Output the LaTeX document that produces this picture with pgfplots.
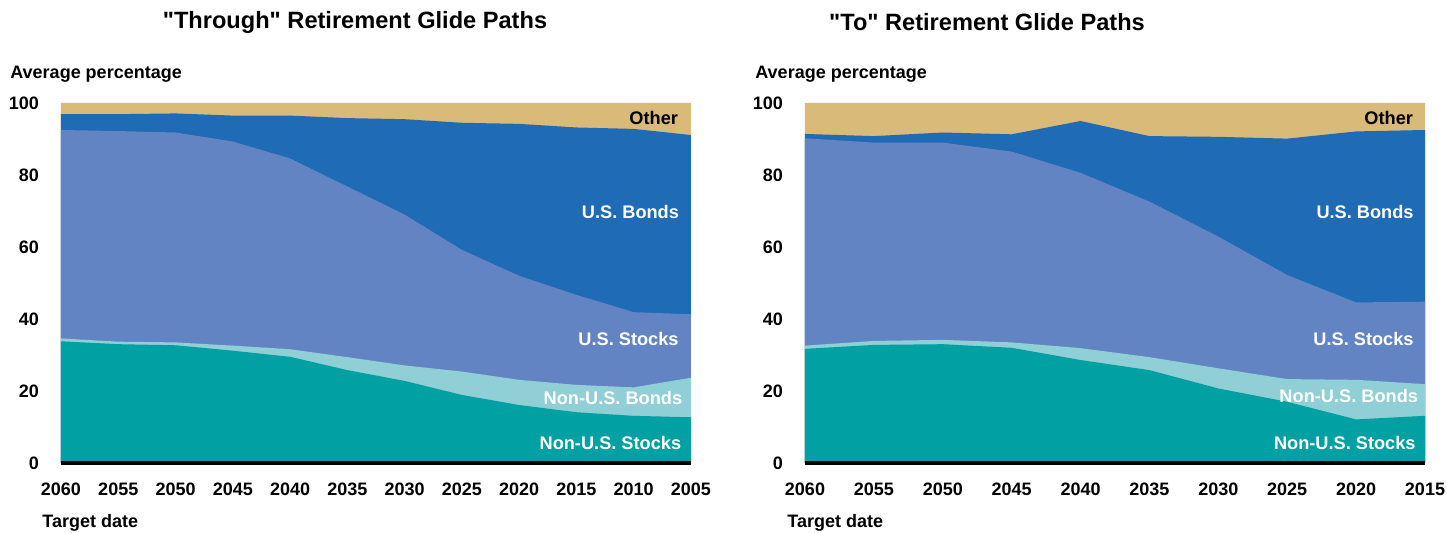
\documentclass[border=0pt]{standalone}
\usepackage{fontspec}
\setmainfont{Liberation Sans}
\usepackage{pgfplots}
\usepackage{pgfplotstable}
\pgfplotsset{compat=1.18}
\definecolor{cOther}{HTML}{D9BA78}
\definecolor{cUSB}{HTML}{1F6BB5}
\definecolor{cUSS}{HTML}{6384C3}
\definecolor{cNUB}{HTML}{90CFD5}
\definecolor{cNUS}{HTML}{00A0A3}

% cumulative tops of each layer
\pgfplotstableread{
year nus nub uss usb tot
2060 33.8 34.6 92.5 96.9 100
2055 33.0 33.7 92.2 96.9 100
2050 32.7 33.5 91.8 97.1 100
2045 31.2 32.6 89.3 96.5 100
2040 29.5 31.6 84.6 96.5 100
2035 25.8 29.4 76.8 95.8 100
2030 22.8 27.1 69.0 95.5 100
2025 18.9 25.4 59.2 94.5 100
2020 16.1 23.1 52.0 94.2 100
2015 14.1 21.7 46.7 93.2 100
2010 13.1 21.0 41.9 92.8 100
2005 12.7 23.7 41.3 91.1 100
}\throughdata

\pgfplotstableread{
year nus nub uss usb tot
2060 31.7 32.6 90.2 91.4 100
2055 32.8 33.9 89.0 90.8 100
2050 33.0 34.2 89.0 91.8 100
2045 32.0 33.5 86.5 91.3 100
2040 28.6 31.9 80.6 95.0 100
2035 25.8 29.4 72.6 90.8 100
2030 20.7 26.3 62.9 90.6 100
2025 17.0 23.3 52.2 90.1 100
2020 12.1 23.1 44.6 92.1 100
2015 13.1 21.9 44.8 92.5 100
}\todata

\pgfplotsset{
  glide/.style={
    scale only axis,
    height=180pt,
    x dir=reverse,
    ymin=0, ymax=100,
    ytick={0,20,...,100},
    axis line style={draw=none},
    major tick length=0pt,
    tick label style={font=\bfseries\fontsize{9}{10}\selectfont},
    /pgf/number format/assume math mode=true,
    /pgf/number format/1000 sep={},
    xticklabel style={yshift=-6.3pt},
    yticklabel style={xshift=-7.5pt},
    clip=false,
  },
}
\tikzset{lab/.style={anchor=east, inner sep=0pt, font=\bfseries\fontsize{9.1}{10}\selectfont, text=white}}

\begin{document}
\begin{tikzpicture}
\path[use as bounding box] (0,0) rectangle (723.5pt,266.5pt);

\node[font=\bfseries\fontsize{11.8}{13}\selectfont] at (177.5pt,255.5pt) {\textquotedbl Through\textquotedbl{} Retirement Glide Paths};
\node[font=\bfseries\fontsize{11.8}{13}\selectfont] at (493.5pt,255.5pt) {\textquotedbl To\textquotedbl{} Retirement Glide Paths};
\node[anchor=west, inner sep=0pt, font=\bfseries\fontsize{9}{10}\selectfont] at (5pt,229.5pt) {Average percentage};
\node[anchor=west, inner sep=0pt, font=\bfseries\fontsize{9}{10}\selectfont] at (377.5pt,229.5pt) {Average percentage};
\node[anchor=west, inner sep=0pt, font=\bfseries\fontsize{9}{10}\selectfont] at (21pt,5pt) {Target date};
\node[anchor=west, inner sep=0pt, font=\bfseries\fontsize{9}{10}\selectfont] at (393.5pt,5pt) {Target date};

\begin{axis}[glide, at={(30.5pt,35pt)}, anchor=south west, width=315pt,
  xmin=2005, xmax=2060, xtick={2005,2010,...,2060}]
  \addplot[fill=cOther, draw=none] table[x=year,y=tot]{\throughdata} \closedcycle;
  \addplot[fill=cUSB, draw=none] table[x=year,y=usb]{\throughdata} \closedcycle;
  \addplot[fill=cUSS, draw=none] table[x=year,y=uss]{\throughdata} \closedcycle;
  \addplot[fill=cNUB, draw=none] table[x=year,y=nub]{\throughdata} \closedcycle;
  \addplot[fill=cNUS, draw=none] table[x=year,y=nus]{\throughdata} \closedcycle;
  \addplot[black, line width=2.3pt] coordinates {(2060,0) (2005,0)};
  \node[lab, text=black, xshift=-6.3pt] at (axis cs:2005,95.8) {Other};
  \node[lab, xshift=-5.8pt] at (axis cs:2005,69.8) {U.S. Bonds};
  \node[lab, xshift=-6pt] at (axis cs:2005,34.4) {U.S. Stocks};
  \node[lab, xshift=-4.2pt] at (axis cs:2005,18.0) {Non-U.S. Bonds};
  \node[lab, xshift=-4.7pt] at (axis cs:2005,5.5) {Non-U.S. Stocks};
\end{axis}

\begin{axis}[glide, at={(402.5pt,35pt)}, anchor=south west, width=310pt,
  xmin=2015, xmax=2060, xtick={2015,2020,...,2060}]
  \addplot[fill=cOther, draw=none] table[x=year,y=tot]{\todata} \closedcycle;
  \addplot[fill=cUSB, draw=none] table[x=year,y=usb]{\todata} \closedcycle;
  \addplot[fill=cUSS, draw=none] table[x=year,y=uss]{\todata} \closedcycle;
  \addplot[fill=cNUB, draw=none] table[x=year,y=nub]{\todata} \closedcycle;
  \addplot[fill=cNUS, draw=none] table[x=year,y=nus]{\todata} \closedcycle;
  \addplot[black, line width=2.3pt] coordinates {(2060,0) (2015,0)};
  \node[lab, text=black, xshift=-5.8pt] at (axis cs:2015,95.8) {Other};
  \node[lab, xshift=-5.5pt] at (axis cs:2015,69.8) {U.S. Bonds};
  \node[lab, xshift=-5.5pt] at (axis cs:2015,34.4) {U.S. Stocks};
  \node[lab, xshift=-3.3pt] at (axis cs:2015,18.7) {Non-U.S. Bonds};
  \node[lab, xshift=-4.5pt] at (axis cs:2015,5.5) {Non-U.S. Stocks};
\end{axis}
\end{tikzpicture}
\end{document}
